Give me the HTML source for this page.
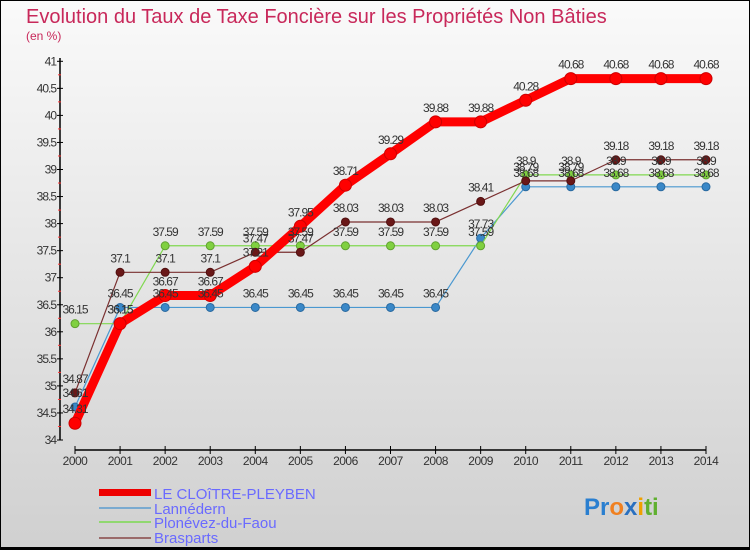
<!DOCTYPE html>
<html><head><meta charset="utf-8"><style>
html,body{margin:0;padding:0}
body{width:750px;height:550px;overflow:hidden;font-family:"Liberation Sans",sans-serif}
svg{display:block}
</style></head><body>
<svg id="chart" width="750" height="550" xmlns="http://www.w3.org/2000/svg">
<defs><linearGradient id="bg" x1="0" y1="0" x2="0" y2="1"><stop offset="0" stop-color="#fafafa"/><stop offset="1" stop-color="#d0d0d0"/></linearGradient></defs>
<rect x="0.5" y="0.5" width="749" height="549" fill="url(#bg)" stroke="#000" stroke-width="1"/>
<rect x="0" y="547" width="750" height="3" fill="#000"/>
<text x="26" y="23" font-size="20" fill="#c8285a">Evolution du Taux de Taxe Foncière sur les Propriétés Non Bâties</text>
<text x="26" y="40" font-size="12" fill="#c8285a">(en %)</text>
<g id="axes"></g><g id="series"></g><g id="labels"></g>
<g>
<rect x="99" y="489" width="52" height="7" fill="#e00"/>
<text x="154" y="499" font-size="15" fill="#6a6aff">LE CLOîTRE-PLEYBEN</text>
<rect x="99" y="507" width="52" height="2" fill="#7aaad0"/>
<text x="154" y="514" font-size="15" fill="#6a6aff">Lannédern</text>
<rect x="99" y="521" width="52" height="2" fill="#90d870"/>
<text x="154" y="528" font-size="15" fill="#6a6aff">Plonévez-du-Faou</text>
<rect x="99" y="537" width="52" height="2" fill="#9a6a6a"/>
<text x="154" y="543" font-size="15" fill="#6a6aff">Brasparts</text>
</g>
<text x="584" y="515" font-size="24" font-weight="bold"><tspan fill="#2a7fd0">Pr</tspan><tspan fill="#f08020">o</tspan><tspan fill="#2a70c0">x</tspan><tspan fill="#f0a000">i</tspan><tspan fill="#60b030">ti</tspan></text>
</svg>
<script>
const years=[2000,2001,2002,2003,2004,2005,2006,2007,2008,2009,2010,2011,2012,2013,2014];
const yTicks=[34,34.5,35,35.5,36,36.5,37,37.5,38,38.5,39,39.5,40,40.5,41];
const cloitre=[34.31,36.15,36.67,36.67,37.21,37.95,38.71,39.29,39.88,39.88,40.28,40.68,40.68,40.68,40.68];
const lannedern=[34.61,36.45,36.45,36.45,36.45,36.45,36.45,36.45,36.45,37.73,38.68,38.68,38.68,38.68,38.68];
const plonevez=[36.15,36.15,37.59,37.59,37.59,37.59,37.59,37.59,37.59,37.59,38.9,38.9,38.9,38.9,38.9];
const brasparts=[34.87,37.1,37.1,37.1,37.47,37.47,38.03,38.03,38.03,38.41,38.79,38.79,39.18,39.18,39.18];
const NS='http://www.w3.org/2000/svg';
const x=i=>75+i*(706-75)/(years.length-1);
const y=v=>440-(v-34)*54.1;
function mk(tag,attrs,parent){const e=document.createElementNS(NS,tag);for(const k in attrs)e.setAttribute(k,attrs[k]);parent.appendChild(e);return e;}
const axes=document.getElementById('axes');
const ax=mk('line',{x1:60,y1:58,x2:60,y2:440,stroke:'#000','stroke-width':1.5},axes);


yTicks.forEach(t=>{
  const yy=y(t);
  mk('line',{x1:57,y1:yy,x2:63,y2:yy,stroke:'#000'},axes);
  if(t<41)mk('line',{x1:58,y1:y(t+0.25),x2:61,y2:y(t+0.25),stroke:'#f33'},axes);
  const tx=mk('text',{x:56,y:yy+4,'font-size':12,'text-anchor':'end',fill:'#333','letter-spacing':'-1'},axes);
  tx.textContent=String(t);
  
  
});
const xa=mk('line',{x1:75,y1:450,x2:706,y2:450,stroke:'#000','stroke-width':1.5},axes);


years.forEach((yr,i)=>{
  mk('line',{x1:x(i),y1:446,x2:x(i),y2:454,stroke:'#000'},axes);
  const tx=mk('text',{x:x(i),y:465,'font-size':12,'text-anchor':'middle',fill:'#333','letter-spacing':'-0.5'},axes);
  tx.textContent=yr;
  
  
});
const sg=document.getElementById('series'),lg=document.getElementById('labels');
function series(data,name,color,w,r,pc,stroke){
  const g=mk('g',{},sg);
  
  
  const pl=mk('polyline',{points:data.map((v,i)=>x(i)+','+y(v)).join(' '),fill:'none',stroke:color,'stroke-width':w,'stroke-linejoin':'round'},g);
  
  
  data.forEach((v,i)=>{
    const c=mk('circle',{cx:x(i),cy:y(v),r:r,fill:pc,stroke:stroke,'stroke-width':1},g);
    
    
    const t=mk('text',{x:x(i),y:y(v)-10,'font-size':12,'text-anchor':'middle',fill:'#333','letter-spacing':'-1'},lg);
    t.textContent=String(v);
    
    
  });
}
series(lannedern,'lannedern','#4a98d0',1.2,4,'#3a88c8','#2a6aa0');
series(plonevez,'plonevez','#80d850',1.2,4,'#80d040','#60a030');
series(brasparts,'brasparts','#7a3030',1.2,4,'#6a1818','#501010');
series(cloitre,'le-cloitre','#f00',9,6,'#f00','#c00');
</script>
</body></html>
